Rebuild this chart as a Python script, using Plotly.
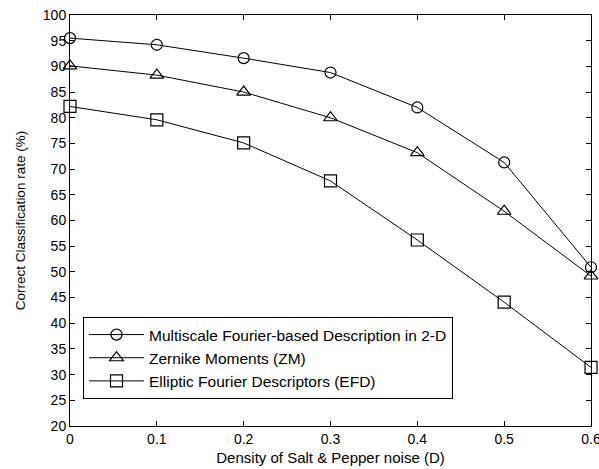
import plotly.graph_objects as go

density = [0, 0.1, 0.2, 0.3, 0.4, 0.5, 0.6]
multiscale = [95.5, 94.2, 91.6, 88.8, 82.0, 71.3, 50.9]
zernike = [90.1, 88.3, 85.0, 80.0, 73.2, 61.8, 49.2]
efd = [82.2, 79.6, 75.1, 67.7, 56.2, 44.1, 31.4]
x_ticks = [0, 0.1, 0.2, 0.3, 0.4, 0.5, 0.6]
x_labels = ["0", "0.1", "0.2", "0.3", "0.4", "0.5", "0.6"]

names = ["Multiscale Fourier-based Description in 2-D",
         "Zernike Moments (ZM)",
         "Elliptic Fourier Descriptors (EFD)"]
symbols = ["circle-open", "triangle-up-open", "square-open"]
sizes = [11, 12, 12]

FONT = "Liberation Sans, Arial"

fig = go.Figure()
for i, (ys, nm, sym, sz) in enumerate(zip([multiscale, zernike, efd], names, symbols, sizes)):
    fig.add_trace(go.Scatter(
        x=density, y=ys, name=nm, mode="lines+markers", legendgroup=f"g{i}",
        line=dict(color="black", width=1),
        marker=dict(symbol=sym, size=sz, color="black", line=dict(color="black", width=1.2)),
        cliponaxis=False,
    ))

axis_common = dict(
    showline=True, linecolor="black", linewidth=1, mirror="ticks",
    ticks="inside", ticklen=5, tickcolor="black", showgrid=False, zeroline=False,
    tickfont=dict(family=FONT, size=14, color="black"),
    ticklabeloverflow="allow", automargin=False,
)
fig.update_xaxes(range=[0, 0.6], tickvals=x_ticks, ticktext=x_labels,
                 title=dict(text="Density of Salt & Pepper noise (D)", standoff=6,
                            font=dict(family=FONT, size=15, color="black")),
                 **axis_common)
fig.update_yaxes(range=[20, 100], dtick=5,
                 title=dict(text="Correct Classification rate (%)", standoff=14,
                            font=dict(family=FONT, size=13.5, color="black")),
                 **axis_common)
fig.update_layout(
    width=599, height=469,
    margin=dict(l=70, r=8, t=15, b=43),
    paper_bgcolor="white", plot_bgcolor="white",
    showlegend=True,
    legend=dict(x=(83 - 70) / 521, y=(426 - 317) / 411, xanchor="left", yanchor="top",
                bordercolor="black", borderwidth=1, bgcolor="white",
                font=dict(family=FONT, size=15.5, color="black"),
                tracegroupgap=0, itemwidth=55),
)
fig.write_html("out.html", post_script="document.body.style.margin='0';",
               config={"displayModeBar": False})
